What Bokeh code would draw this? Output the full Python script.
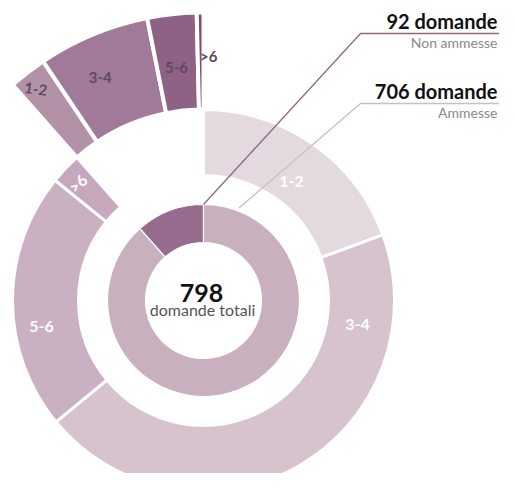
import numpy as np
from bokeh.plotting import figure
from bokeh.models import Range1d
from bokeh.core.properties import value
from bokeh.embed import file_html
from bokeh.resources import INLINE

# ---------------- data ----------------
total = 798
inner_labels = ["Non ammesse", "Ammesse"]
inner_values = [92, 706]
classes = ["1-2", "3-4", "5-6", ">6"]
ammesse_values = [155, 356, 174, 21]
non_ammesse_values = [17, 50, 22, 3]

# ---------------- style ----------------
FONT = value("Lato")
inner_colors = ["#966b8d", "#c8b0bf"]
ammesse_colors = ["#e4d9df", "#d6c3ce", "#c9b1c3", "#c5a8bd"]
non_ammesse_colors = ["#b392a9", "#a07a98", "#8e6185", "#7a4f70"]

cx, cy = 203.0, -300.0
r_inner = (58, 96)
r_main = (125, 191)
r_expl = (191, 288)
k = 2 * np.pi / total

p = figure(width=499, height=473, x_range=Range1d(0, 499), y_range=Range1d(-473, 0),
           output_backend="svg", toolbar_location=None, min_border=0)
p.axis.visible = False
p.grid.visible = False
p.outline_line_color = None
p.background_fill_color = "white"

# inner ring
a0 = np.pi / 2
inner_start = [a0, a0 + inner_values[0] * k]
inner_end = [a0 + inner_values[0] * k, a0 + 2 * np.pi]
p.annular_wedge(x=cx, y=cy, inner_radius=r_inner[0], outer_radius=r_inner[1],
                start_angle=inner_start, end_angle=inner_end,
                fill_color=inner_colors, line_color="white", line_width=1.2)

# main outer ring (ammesse), clockwise from 12 o'clock
cum = np.cumsum([0] + ammesse_values)
m_end = a0 - cum[:-1] * k
m_start = a0 - cum[1:] * k
p.annular_wedge(x=cx, y=cy, inner_radius=r_main[0], outer_radius=r_main[1],
                start_angle=m_start, end_angle=m_end,
                fill_color=ammesse_colors, line_color="white", line_width=3)

# exploded ring (non ammesse)
base = a0 + inner_values[0] * k
cum2 = np.cumsum([0] + non_ammesse_values)
e_end = base - cum2[:-1] * k
e_start = base - cum2[1:] * k
p.annular_wedge(x=cx, y=cy, inner_radius=r_expl[0], outer_radius=r_expl[1],
                start_angle=e_start, end_angle=e_end,
                fill_color=non_ammesse_colors, line_color="white", line_width=4)

# segment labels - main ring
main_lab_ang = np.deg2rad([53.5, -9, 189, 137])
main_lab_r = np.array([148, 156, 164, 172])
p.text(x=cx + main_lab_r * np.cos(main_lab_ang),
       y=cy + main_lab_r * np.sin(main_lab_ang),
       text=classes, angle=[0, 0, 0, np.deg2rad(42)],
       text_font=FONT, text_font_style="bold", text_font_size="16px",
       text_color="white", text_align="center", text_baseline="middle")

# segment labels - exploded ring
ex_lab_ang = np.deg2rad([128.4, 114.8, 96.6, 88.8])
ex_lab_r = np.array([270, 246, 235, 245])
p.text(x=cx + ex_lab_r * np.cos(ex_lab_ang),
       y=cy + ex_lab_r * np.sin(ex_lab_ang),
       text=classes, angle=[np.deg2rad(-8), 0, 0, 0],
       text_font=FONT, text_font_style="bold", text_font_size="15px",
       text_color="#5e4a5e", text_align="center", text_baseline="middle")

# centre text
p.text(x=[cx - 2], y=[cy + 8], text=[str(total)], text_font=FONT, text_font_style="bold",
       text_font_size="25px", text_color="#111111", text_align="center",
       text_baseline="alphabetic")
p.text(x=[cx - 1], y=[cy - 9], text=["domande totali"], text_font=FONT,
       text_font_size="16px", text_color="#555555", text_align="center",
       text_baseline="alphabetic")

# leader lines + right labels
ang1 = a0
ang2 = np.deg2rad(69)
p1 = (cx + r_inner[1] * np.cos(ang1), cy + r_inner[1] * np.sin(ang1))
p2 = (cx + (r_inner[1] + 3) * np.cos(ang2), cy + (r_inner[1] + 3) * np.sin(ang2))
p.line(x=[p1[0], 360, 499], y=[p1[1], -33, -33], line_color="#8a6a80", line_width=1.3)
p.line(x=[p2[0], 360, 499], y=[p2[1], -103, -103], line_color="#cbbec6", line_width=1.3)

p.text(x=[497, 497], y=[-20, -90], text=[f"{inner_values[0]} domande", f"{inner_values[1]} domande"],
       text_font=FONT, text_font_style="bold", text_font_size="20px", text_color="#111111",
       text_align="right", text_baseline="alphabetic")
p.text(x=[497, 497], y=[-42, -112], text=inner_labels,
       text_font=FONT, text_font_size="14px", text_color="#8a8a8a",
       text_align="right", text_baseline="alphabetic")

open("out.html", "w").write(file_html(p, INLINE))
